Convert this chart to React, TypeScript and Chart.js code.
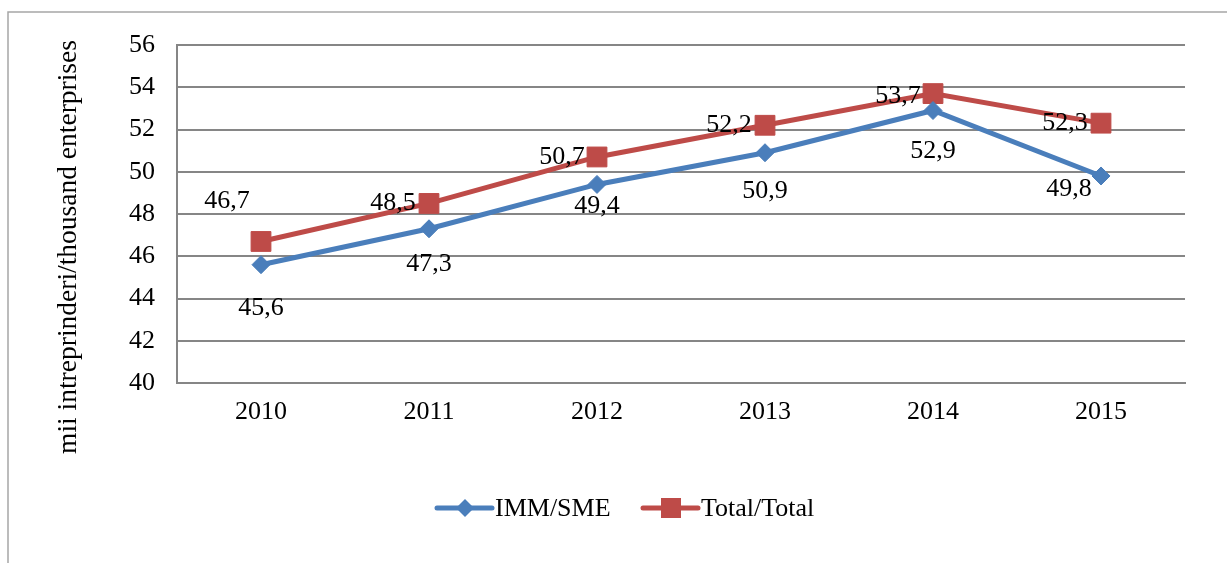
import React, { useEffect, useRef } from "react";
import { Chart, registerables } from "chart.js";

Chart.register(...registerables);

const years = ["2010", "2011", "2012", "2013", "2014", "2015"];
const smeValues = [45.6, 47.3, 49.4, 50.9, 52.9, 49.8];
const totalValues = [46.7, 48.5, 50.7, 52.2, 53.7, 52.3];
const seriesNames = ["IMM/SME", "Total/Total"];
const yAxisTitle = "mii intreprinderi/thousand enterprises";

// label offsets (pixels, relative to the point)
const smeLabelOffsets = [[0, 43], [0, 35], [0, 22], [0, 38], [0, 41], [-32, 13]];
const totalLabelOffsets = [[-34, -40], [-36, 0], [-35, 0], [-36, 0], [-35, 3], [-36, 0]];

const BLUE = "#4A7EBB";
const RED = "#BE4B48";
const FONT = "'Liberation Serif', 'Times New Roman', serif";

Chart.defaults.font.family = FONT;

export default function App() {
  const ref = useRef<HTMLCanvasElement | null>(null);
  useEffect(() => {
    const canvas = ref.current!;
    const fmt = (v: number) => v.toFixed(1).replace(".", ",");
    const decor = {
      id: "decor",
      beforeDraw(chart: any) {
        const ctx = chart.ctx;
        ctx.save();
        ctx.fillStyle = "#fff";
        ctx.fillRect(0, 0, chart.width, chart.height);
        ctx.strokeStyle = "#a6a6a6";
        ctx.lineWidth = 1.5;
        ctx.strokeRect(8, 12, 1300, 700);
        ctx.restore();
      },
      afterDatasetsDraw(chart: any) {
        const ctx = chart.ctx;
        ctx.save();
        ctx.font = `26px ${FONT}`;
        ctx.fillStyle = "#000";
        ctx.textAlign = "center";
        ctx.textBaseline = "middle";
        const sets = [
          { vals: smeValues, offs: smeLabelOffsets, idx: 0 },
          { vals: totalValues, offs: totalLabelOffsets, idx: 1 },
        ];
        sets.forEach((s) => {
          const meta = chart.getDatasetMeta(s.idx);
          meta.data.forEach((pt: any, i: number) => {
            ctx.fillText(fmt(s.vals[i]), pt.x + s.offs[i][0], pt.y + s.offs[i][1]);
          });
        });
        // y axis title
        ctx.save();
        ctx.translate(69, 247);
        ctx.rotate(-Math.PI / 2);
        ctx.font = `27.5px ${FONT}`;
        ctx.fillText(yAxisTitle, 0, 0);
        ctx.restore();
        // legend
        const ly = 508;
        const items = [
          { x: 437, color: BLUE, style: "diamond", name: seriesNames[0] },
          { x: 643, color: RED, style: "square", name: seriesNames[1] },
        ];
        items.forEach((it) => {
          ctx.strokeStyle = it.color;
          ctx.fillStyle = it.color;
          ctx.lineWidth = 5;
          ctx.lineCap = "round";
          ctx.beginPath();
          ctx.moveTo(it.x, ly);
          ctx.lineTo(it.x + 55, ly);
          ctx.stroke();
          const cx = it.x + 28;
          ctx.beginPath();
          if (it.style === "diamond") {
            ctx.moveTo(cx - 9, ly);
            ctx.lineTo(cx, ly - 9);
            ctx.lineTo(cx + 9, ly);
            ctx.lineTo(cx, ly + 9);
            ctx.closePath();
          } else {
            ctx.rect(cx - 10, ly - 10, 20, 20);
          }
          ctx.fill();
          ctx.fillStyle = "#000";
          ctx.textAlign = "left";
          ctx.fillText(it.name, it.x + 58, ly + 1);
        });
        ctx.restore();
      },
    };
    const chart = new Chart(canvas, {
      type: "line",
      data: {
        labels: years,
        datasets: [
          {
            label: seriesNames[0],
            data: smeValues,
            borderColor: BLUE,
            backgroundColor: BLUE,
            borderWidth: 5,
            pointStyle: "rectRot",
            pointRadius: 9,
            pointBorderWidth: 1,
            tension: 0,
          },
          {
            label: seriesNames[1],
            data: totalValues,
            borderColor: RED,
            backgroundColor: RED,
            borderWidth: 5,
            pointStyle: "rect",
            pointRadius: 14,
            pointBorderWidth: 1,
            tension: 0,
          },
        ],
      },
      options: {
        animation: false,
        responsive: false,
        devicePixelRatio: 1,
        layout: { padding: { left: 0, top: 45, right: 42, bottom: 0 } },
        plugins: { legend: { display: false }, tooltip: { enabled: false } },
        scales: {
          x: {
            offset: true,
            grid: { display: false, drawTicks: false },
            border: { color: "#868686", width: 2 },
            ticks: { color: "#000", font: { family: FONT, size: 26 }, padding: 14 },
            afterFit: (s: any) => { s.height = 180; },
          },
          y: {
            min: 40,
            max: 56,
            ticks: { stepSize: 2, color: "#000", font: { family: FONT, size: 26 }, padding: 22 },
            grid: { color: "#868686", lineWidth: 2, drawTicks: false },
            border: { color: "#868686", width: 2 },
            afterFit: (s: any) => { s.width = 177; },
          },
        },
      },
      plugins: [decor],
    });
    return () => chart.destroy();
  }, []);
  return (
    <div style={{ position: "absolute", left: 0, top: 0, width: 1227, height: 563 }}>
      <canvas ref={ref} width={1227} height={563} style={{ display: "block" }} />
    </div>
  );
}
